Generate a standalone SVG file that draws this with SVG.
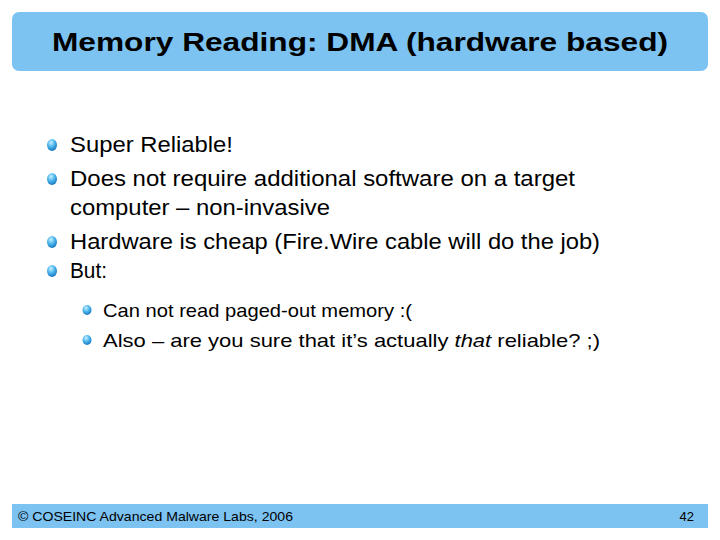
<svg xmlns="http://www.w3.org/2000/svg" width="720" height="540" viewBox="0 0 720 540">
<defs>
<radialGradient id="b" cx="0.4" cy="0.3" r="0.7"><stop offset="0" stop-color="#c8f0ff"/><stop offset="0.5" stop-color="#4fb8ee"/><stop offset="1" stop-color="#1a78c0"/></radialGradient>
<style>
.t{font-family:"Liberation Sans",Arial,sans-serif;fill:#000}
.l1{font-size:22px}
.l2{font-size:19px}
</style>
</defs>
<rect width="720" height="540" fill="#fff"/>
<g id="title">
<rect x="12" y="12" width="696" height="59" rx="7" fill="#7cc3f2"/>
<text class="t" x="52" y="51" font-size="26" font-weight="bold" textLength="616" lengthAdjust="spacingAndGlyphs">Memory Reading: DMA (hardware based)</text>
</g>
<g id="bullets">
<ellipse cx="52" cy="145" rx="5" ry="6" fill="url(#b)"/>
<text class="t l1" x="70" y="152" textLength="163" lengthAdjust="spacingAndGlyphs">Super Reliable!</text>
<ellipse cx="52" cy="179" rx="5" ry="6" fill="url(#b)"/>
<text class="t l1" x="70" y="186" textLength="505" lengthAdjust="spacingAndGlyphs">Does not require additional software on a target</text>
<text class="t l1" x="70" y="215" textLength="260" lengthAdjust="spacingAndGlyphs">computer – non-invasive</text>
<ellipse cx="52" cy="242" rx="5" ry="6" fill="url(#b)"/>
<text class="t l1" x="70" y="249" textLength="530" lengthAdjust="spacingAndGlyphs">Hardware is cheap (Fire.Wire cable will do the job)</text>
<ellipse cx="52" cy="271" rx="5" ry="6" fill="url(#b)"/>
<text class="t l1" x="70" y="278" textLength="37" lengthAdjust="spacingAndGlyphs">But:</text>
<ellipse cx="87" cy="310" rx="4.5" ry="5" fill="url(#b)"/>
<text class="t l2" x="103" y="317" textLength="309" lengthAdjust="spacingAndGlyphs">Can not read paged-out memory :(</text>
<ellipse cx="87" cy="340" rx="4.5" ry="5" fill="url(#b)"/>
<text class="t l2" x="103" y="347" textLength="497" lengthAdjust="spacingAndGlyphs">Also – are you sure that it’s actually <tspan font-style="italic">that</tspan> reliable? ;)</text>
</g>
<g id="footer">
<rect x="12" y="504" width="696" height="24" fill="#7cc3f2"/>
<text class="t" x="18" y="521" font-size="13" textLength="275" lengthAdjust="spacingAndGlyphs">© COSEINC Advanced Malware Labs, 2006</text>
<text class="t" x="694" y="521" font-size="13" text-anchor="end">42</text>
</g>
</svg>
